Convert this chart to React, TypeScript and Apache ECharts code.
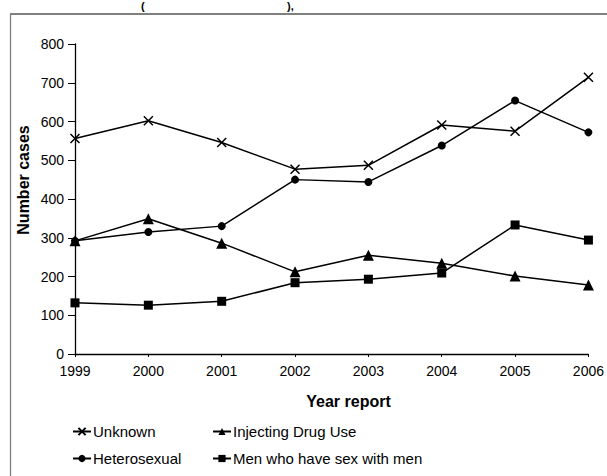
import React, { useEffect, useRef } from "react";
import * as echarts from "echarts";

const years = ["1999", "2000", "2001", "2002", "2003", "2004", "2005", "2006"];
const unknown = [556, 602, 546, 477, 487, 591, 575, 714];
const heterosexual = [292, 315, 330, 450, 444, 538, 654, 572];
const injecting = [292, 349, 286, 212, 255, 234, 201, 178];
const msm = [132, 126, 136, 184, 193, 209, 333, 294];

const FONT = "Liberation Sans, Arial, sans-serif";
const CROSS = "path://M0,0L10,10M10,0L0,10";

export default function App() {
  const ref = useRef<HTMLDivElement>(null);
  useEffect(() => {
    document.body.style.margin = "0";
    const chart = echarts.init(ref.current!, null, { renderer: "svg" });
    const mk = (name: string, data: number[], symbol: string, size: number, extra: any = {}) => ({
      type: "line",
      name,
      data,
      symbol,
      symbolSize: size,
      lineStyle: { color: "#000", width: 1.5 },
      itemStyle: { color: "#000", ...extra },
      emphasis: { disabled: true },
    });
    const legendBase = {
      padding: 0,
      itemGap: 0,
      itemWidth: 18,
      itemHeight: 9,
      selectedMode: false,
      textStyle: { fontSize: 15, color: "#000", fontFamily: FONT, padding: [0, 0, 0, -3] },
    };
    chart.setOption({
      animation: false,
      grid: { left: 75, right: 14, top: 44, bottom: 122 },
      xAxis: {
        type: "category",
        data: years,
        boundaryGap: false,
        axisLine: { lineStyle: { color: "#000", width: 1.3 } },
        axisTick: { show: true, length: 3, lineStyle: { color: "#000" } },
        axisLabel: { fontSize: 14, color: "#000", fontFamily: FONT, margin: 10 },
      },
      yAxis: {
        type: "value",
        min: 0,
        max: 800,
        interval: 100,
        splitLine: { show: false },
        axisLine: { show: true, lineStyle: { color: "#000", width: 1.3 } },
        axisTick: { show: true, length: 7, lineStyle: { color: "#000" } },
        axisLabel: { fontSize: 14, color: "#000", fontFamily: FONT, margin: 11 },
      },
      legend: [
        { ...legendBase, data: ["Unknown"], left: 72, top: 424 },
        { ...legendBase, data: ["Injecting Drug Use"], left: 212, top: 424 },
        { ...legendBase, data: ["Heterosexual"], left: 72, top: 451 },
        { ...legendBase, data: ["Men who have sex with men"], left: 212, top: 451 },
      ],
      graphic: [
        { type: "line", shape: { x1: 10, y1: 14, x2: 620, y2: 14 }, style: { stroke: "#808080", lineWidth: 2 } },
        { type: "line", shape: { x1: 10.5, y1: 14, x2: 10.5, y2: 490 }, style: { stroke: "#808080", lineWidth: 1.3 } },
        {
          type: "text",
          x: 23,
          y: 180,
          rotation: Math.PI / 2,
          style: {
            text: "Number cases",
            font: `bold 16px ${FONT}`,
            fill: "#000",
            align: "center",
            verticalAlign: "middle",
          },
        },
        {
          type: "text",
          x: 348.5,
          y: 401,
          style: {
            text: "Year report",
            font: `bold 16px ${FONT}`,
            fill: "#000",
            align: "center",
            verticalAlign: "middle",
          },
        },
        {
          type: "text",
          x: 141,
          y: 0,
          style: { text: "(", font: `bold 11px ${FONT}`, fill: "#000", align: "left", verticalAlign: "top" },
        },
        {
          type: "text",
          x: 287,
          y: 0,
          style: { text: "),", font: `bold 11px ${FONT}`, fill: "#000", align: "left", verticalAlign: "top" },
        },
      ],
      series: [
        mk("Unknown", unknown, CROSS, 9, { borderColor: "#000", borderWidth: 1.5 }),
        mk("Heterosexual", heterosexual, "circle", 8),
        mk("Injecting Drug Use", injecting, "triangle", 11),
        mk("Men who have sex with men", msm, "rect", 9),
      ],
    });
    return () => chart.dispose();
  }, []);
  return <div ref={ref} style={{ width: 607, height: 476 }} />;
}
